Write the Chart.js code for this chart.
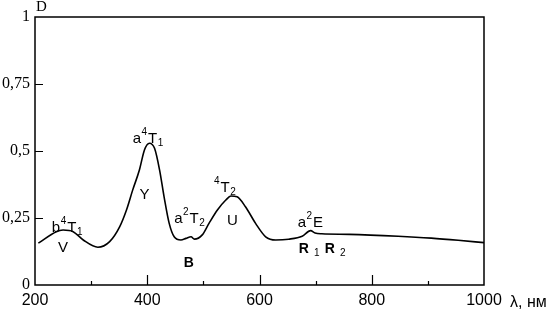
<!DOCTYPE html>
<html>
<head>
<meta charset="utf-8">
<script src="https://cdn.jsdelivr.net/npm/chart.js@4/dist/chart.umd.min.js"></script>
<style>
html,body{margin:0;padding:0;background:#fff;}
#wrap{width:553px;height:311px;}
</style>
</head>
<body>
<div id="wrap"><canvas id="c" width="553" height="311"></canvas></div>
<script>
// Wavelength (nm) and optical density D
const wavelengths = [206, 238, 250, 268, 286, 312, 333, 351, 363, 374, 386, 395, 404, 413, 422, 430, 439, 448, 460, 469, 478, 484, 498, 510, 525, 540, 549, 560, 575, 593, 611, 629, 652, 676, 691, 699, 711, 760, 847, 906, 954, 1000];
const density     = [0.156, 0.199, 0.205, 0.199, 0.168, 0.141, 0.162, 0.218, 0.280, 0.354, 0.429, 0.504, 0.529, 0.510, 0.429, 0.329, 0.231, 0.180, 0.168, 0.174, 0.180, 0.171, 0.187, 0.230, 0.280, 0.317, 0.332, 0.329, 0.292, 0.230, 0.180, 0.168, 0.171, 0.182, 0.203, 0.194, 0.191, 0.189, 0.182, 0.175, 0.167, 0.158];
const xTickLabels = [200, 400, 600, 800, 1000];
const yTickLabels = [0, 0.25, 0.5, 0.75, 1];
const xMinorTicks = [300, 500, 700, 900];
const xMajorInner = [400, 600, 800];
const yInnerTicks = [0.25, 0.5, 0.75];
const xUnit = 'λ, нм';
const yTitle = 'D';

// band labels (text runs: n = normal, b = bold, sup = superscript, sub = subscript), anchored in data units
const bandLabels = [
  {x: 230, y: 0.198, runs: [['b','n'],['4','sup'],['T','n'],['1','sub']]},
  {x: 241, y: 0.123, runs: [['V','n']]},
  {x: 374, y: 0.530, runs: [['a','n'],['4','sup'],['T','n'],['1','sub']]},
  {x: 386, y: 0.321, runs: [['Y','n']]},
  {x: 448, y: 0.231, runs: [['a','n'],['2','sup'],['T','n'],['2','sub']]},
  {x: 465, y: 0.067, runs: [['B','b']]},
  {x: 519, y: 0.347, runs: [['4','sup'],['T','n'],['2','sub']]},
  {x: 542, y: 0.224, runs: [['U','n']]},
  {x: 668, y: 0.216, runs: [['a','n'],['2','sup'],['E','n']]},
  {x: 670, y: 0.119, runs: [['R','b'],[' ','n'],['1','sub'],[' ','n'],['R','b'],[' ','n'],['2','sub']]}
];

const points = wavelengths.map((w, i) => ({x: w, y: density[i]}));

const extras = {
  id: 'extras',
  afterDraw(chart) {
    const {ctx, chartArea: {left, right, top, bottom}, scales: {x, y}} = chart;
    ctx.save();
    ctx.strokeStyle = '#000';
    ctx.lineWidth = 1.5;
    ctx.beginPath();
    ctx.moveTo(left, top); ctx.lineTo(right, top); ctx.lineTo(right, bottom); ctx.lineTo(left, bottom); ctx.closePath();
    ctx.stroke();
    ctx.lineWidth = 1.2;
    ctx.beginPath();
    xMajorInner.forEach(v => { const px = Math.round(x.getPixelForValue(v)) + 0.5; ctx.moveTo(px, bottom); ctx.lineTo(px, bottom - 10); });
    xMinorTicks.forEach(v => { const px = Math.round(x.getPixelForValue(v)) + 0.5; ctx.moveTo(px, bottom); ctx.lineTo(px, bottom - 4); });
    yInnerTicks.forEach(v => { const py = Math.round(y.getPixelForValue(v)) + 0.5; ctx.moveTo(left, py); ctx.lineTo(left + 8, py); });
    ctx.stroke();

    ctx.fillStyle = '#000';
    ctx.textBaseline = 'alphabetic';
    ctx.textAlign = 'left';
    ctx.font = "16px 'Liberation Sans', sans-serif";
    ctx.fillText(xUnit, right + 26, bottom + 22);
    ctx.font = "15px 'Liberation Serif', serif";
    ctx.fillText(yTitle, left + 1, top - 6);

    bandLabels.forEach(lb => {
      let px = x.getPixelForValue(lb.x);
      const py = y.getPixelForValue(lb.y);
      lb.runs.forEach(([t, k]) => {
        let dy = 0;
        if (k === 'sup') { ctx.font = "10px 'Liberation Sans', sans-serif"; dy = -8; }
        else if (k === 'sub') { ctx.font = "10px 'Liberation Sans', sans-serif"; dy = 3; }
        else if (k === 'b') { ctx.font = "bold 14px 'Liberation Sans', sans-serif"; }
        else { ctx.font = "15px 'Liberation Sans', sans-serif"; }
        ctx.fillText(t, px, py + dy);
        px += ctx.measureText(t).width + (k === 'sup' ? 1 : 0.5);
      });
    });
    ctx.restore();
  }
};

new Chart(document.getElementById('c'), {
  type: 'line',
  data: {
    datasets: [{
      data: points,
      borderColor: '#000',
      borderWidth: 1.6,
      pointRadius: 0,
      fill: false,
      cubicInterpolationMode: 'monotone'
    }]
  },
  options: {
    responsive: false,
    animation: false,
    layout: {padding: {top: 17, right: 69, left: 0, bottom: 0}},
    plugins: {legend: {display: false}, tooltip: {enabled: false}},
    scales: {
      x: {
        type: 'linear', min: 200, max: 1000,
        grid: {display: false, drawTicks: false},
        border: {display: false},
        afterFit(s) { s.height = 26; },
        afterBuildTicks(s) { s.ticks = xTickLabels.map(v => ({value: v})); },
        ticks: {
          autoSkip: false, maxRotation: 0, padding: 6, color: '#000',
          font: {family: "'Liberation Sans', sans-serif", size: 16},
          callback: v => String(v)
        }
      },
      y: {
        min: 0, max: 1,
        grid: {display: false, drawTicks: false},
        border: {display: false},
        afterFit(s) { s.width = 35; },
        afterBuildTicks(s) { s.ticks = yTickLabels.map(v => ({value: v})); },
        ticks: {
          autoSkip: false, padding: 5, color: '#000',
          font: {family: "'Liberation Serif', serif", size: 16},
          callback: v => String(v).replace('.', ',')
        }
      }
    }
  },
  plugins: [extras]
});
</script>
</body>
</html>
